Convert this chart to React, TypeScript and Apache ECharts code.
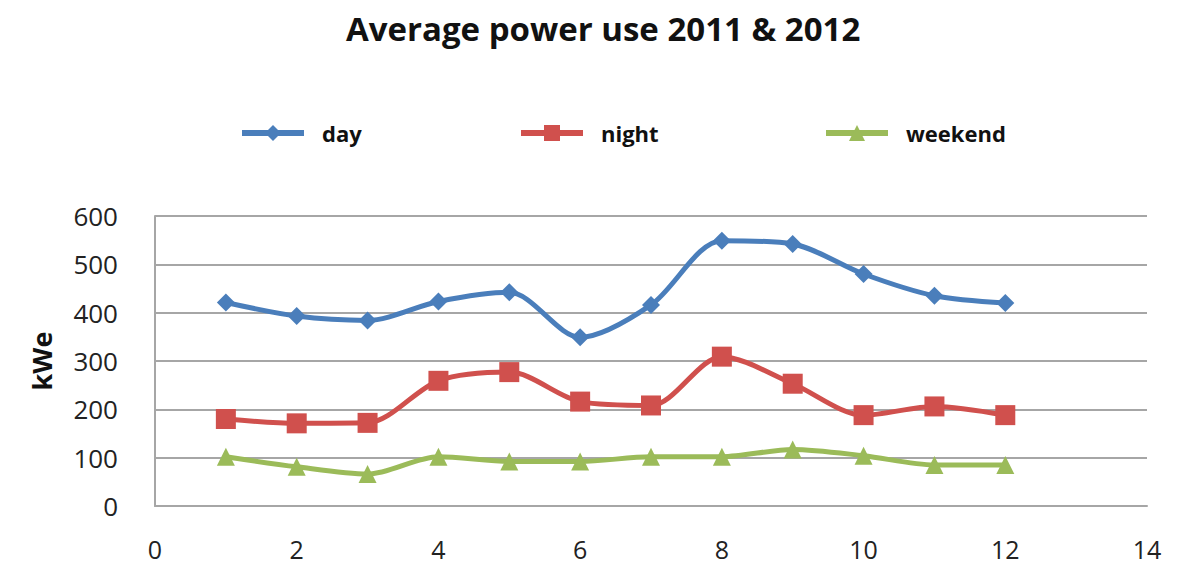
import React, { useEffect, useRef } from "react";
import * as echarts from "echarts";

const months = [1, 2, 3, 4, 5, 6, 7, 8, 9, 10, 11, 12];
const dayValues = [421, 393, 384, 423, 442, 349, 416, 549, 542, 480, 435, 420];
const nightValues = [180, 171, 172, 259, 277, 216, 208, 309, 253, 188, 206, 188];
const weekendValues = [102, 81, 66, 102, 92, 92, 102, 102, 117, 104, 85, 85];
const seriesNames = ["day", "night", "weekend"];
const colors = ["#4A7EBB", "#D0504D", "#9BBB59"];

const FONT = "'Open Sans', 'Noto Sans', sans-serif";

export default function App() {
  const ref = useRef<HTMLDivElement>(null);
  useEffect(() => {
    document.body.style.margin = "0";
    if (!ref.current) return;
    const chart = echarts.init(ref.current, undefined, { renderer: "svg" });
    const pair = (vals: number[]) => months.map((m, i) => [m, vals[i]]);
    const mk = (name: string, vals: number[], color: string, symbol: string, size: number) => ({
      name,
      type: "line",
      data: pair(vals),
      smooth: 0.3,
      symbol,
      symbolSize: size,
      lineStyle: { color, width: 5 },
      itemStyle: { color },
    });
    const legendBase = {
      top: 122,
      padding: 0,
      itemWidth: 62,
      itemHeight: 20,
      itemGap: 20,
      lineStyle: { width: 6 },
      textStyle: {
        fontFamily: FONT,
        fontSize: 22,
        fontWeight: "bold",
        color: "#111",
        padding: [0, 0, 0, 13],
      },
    };
    chart.setOption({
      animation: false,
      title: {
        text: "Average power use 2011 & 2012",
        left: 346,
        top: 12,
        padding: 0,
        textStyle: { fontFamily: FONT, fontSize: 33, fontWeight: "bold", color: "#111" },
      },
      legend: [
        { ...legendBase, left: 239, data: [seriesNames[0]] },
        { ...legendBase, left: 518, data: [seriesNames[1]] },
        { ...legendBase, left: 823, data: [seriesNames[2]] },
      ],
      grid: { left: 155, right: 48, top: 216, bottom: 59, containLabel: false },
      xAxis: {
        type: "value",
        min: 0,
        max: 14,
        interval: 2,
        axisLine: { show: true, lineStyle: { color: "#A6A6A6", width: 2 } },
        axisTick: { show: false },
        splitLine: { show: false },
        axisLabel: { fontFamily: FONT, fontSize: 25, lineHeight: 26, color: "#222", margin: 30 },
      },
      yAxis: {
        type: "value",
        min: 0,
        max: 600,
        interval: 100,
        name: "kWe",
        nameLocation: "middle",
        nameGap: 100,
        nameTextStyle: { fontFamily: FONT, fontSize: 27, fontWeight: "bold", color: "#111" },
        axisLine: { show: true, lineStyle: { color: "#A6A6A6", width: 2 } },
        axisTick: { show: false },
        splitLine: { show: true, lineStyle: { color: "#A6A6A6", width: 2 } },
        axisLabel: { fontFamily: FONT, fontSize: 26, color: "#222", margin: 37 },
      },
      series: [
        mk(seriesNames[0], dayValues, colors[0], "diamond", 18),
        mk(seriesNames[1], nightValues, colors[1], "rect", 20),
        mk(seriesNames[2], weekendValues, colors[2], "triangle", 18),
      ],
    });
    return () => chart.dispose();
  }, []);
  return <div ref={ref} style={{ width: 1195, height: 565 }} />;
}
